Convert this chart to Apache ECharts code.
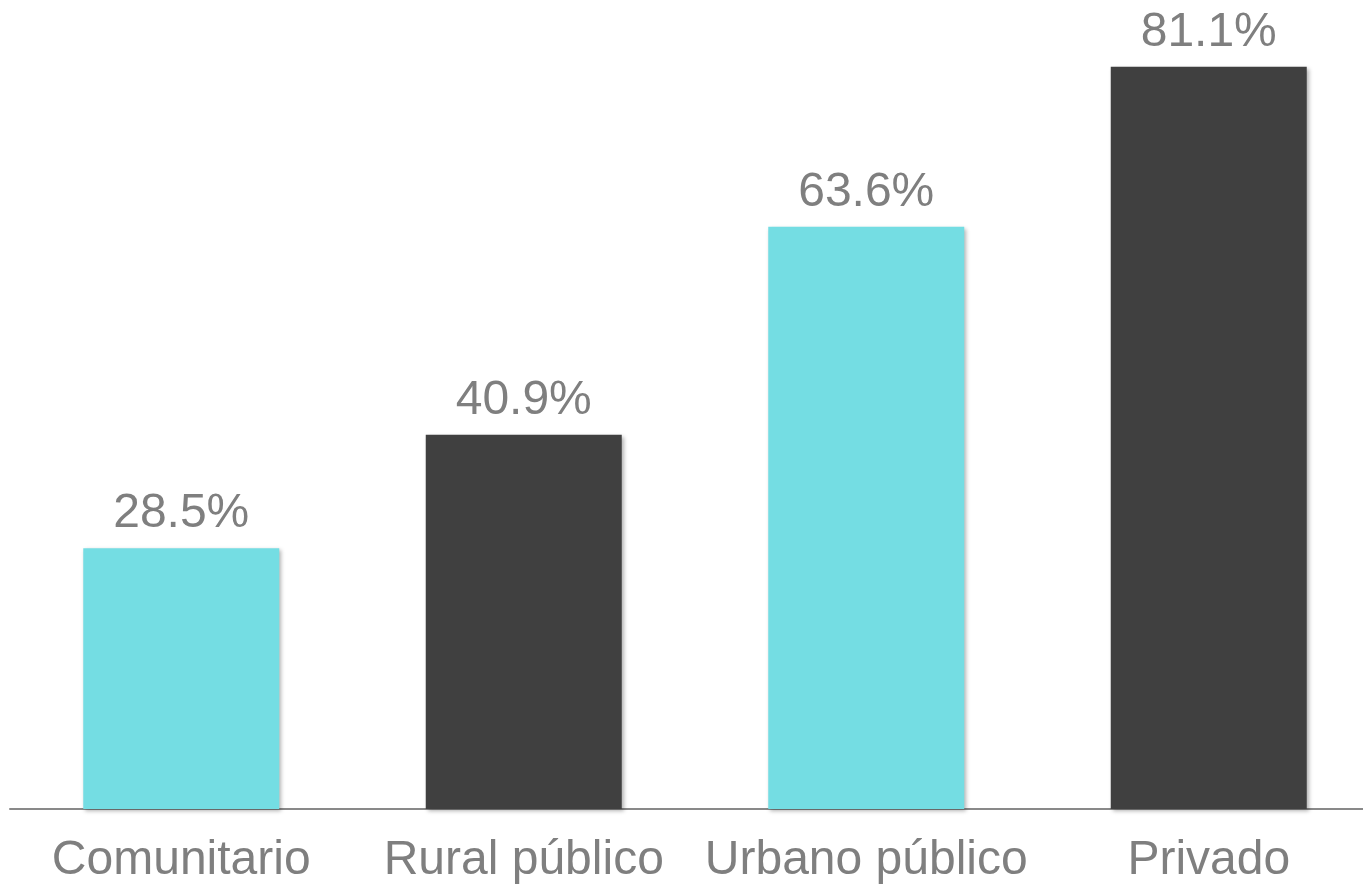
<!DOCTYPE html>
<html>
<head>
<meta charset="utf-8">
<script src="https://cdn.jsdelivr.net/npm/echarts@6/dist/echarts.min.js"></script>
<style>
html,body{margin:0;padding:0;background:#fff;}
#chart{width:1363px;height:893px;}
</style>
</head>
<body>
<div id="chart"></div>
<script>
const categories = ['Comunitario', 'Rural público', 'Urbano público', 'Privado'];
const values = [28.5, 40.9, 63.6, 81.1];
const barColors = ['#74DDE3', '#404040', '#74DDE3', '#404040'];

const chart = echarts.init(document.getElementById('chart'));
chart.setOption({
  animation: false,
  grid: { left: 10, width: 1370, top: 31, bottom: 84, containLabel: false, outerBoundsMode: 'none' },
  xAxis: {
    type: 'category',
    data: categories,
    axisLine: { lineStyle: { color: '#898989', width: 2 } },
    axisTick: { show: false },
    axisLabel: {
      color: '#7F7F7F',
      fontSize: 48,
      fontFamily: 'Liberation Sans, Arial, sans-serif',
      margin: 28,
      interval: 0
    }
  },
  yAxis: {
    type: 'value',
    min: 0,
    max: 85,
    show: false,
    splitLine: { show: false }
  },
  series: [{
    type: 'bar',
    barWidth: 196,
    data: values.map((v, i) => ({ value: v, itemStyle: { color: barColors[i] } })),
    itemStyle: {
      shadowBlur: 4,
      shadowOffsetX: 2,
      shadowOffsetY: 2,
      shadowColor: 'rgba(0,0,0,0.3)'
    },
    label: {
      show: true,
      position: 'top',
      distance: 10,
      color: '#7F7F7F',
      fontSize: 48,
      fontFamily: 'Liberation Sans, Arial, sans-serif',
      formatter: p => p.value.toFixed(1) + '%'
    }
  }]
});
</script>
</body>
</html>
